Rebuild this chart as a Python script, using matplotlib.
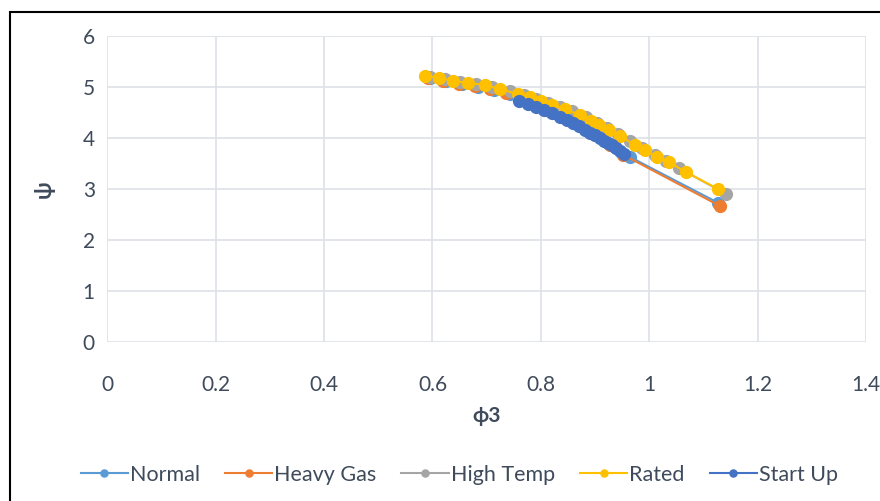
import matplotlib.pyplot as plt
from matplotlib.patches import Rectangle

plt.rcParams['font.family'] = ['Lato', 'DejaVu Sans']

# 数据 (phi3, psi)
normal_x = [0.595, 0.625, 0.654, 0.684, 0.713, 0.743, 0.771, 0.798, 0.826, 0.854,
            0.881, 0.909, 0.937, 0.964, 1.127]
normal_y = [5.18, 5.12, 5.06, 5.00, 4.94, 4.86, 4.75, 4.63, 4.49, 4.35,
            4.20, 4.02, 3.82, 3.63, 2.73]

heavy_x = [0.592, 0.619, 0.649, 0.678, 0.706, 0.736, 0.761, 0.789, 0.817, 0.844,
           0.872, 0.900, 0.928, 0.952, 1.130]
heavy_y = [5.18, 5.12, 5.06, 5.02, 4.96, 4.88, 4.78, 4.67, 4.53, 4.39,
           4.24, 4.06, 3.86, 3.67, 2.67]

hot_x = [0.595, 0.623, 0.651, 0.680, 0.710, 0.743, 0.769, 0.791, 0.813, 0.835,
         0.857, 0.883, 0.903, 0.922, 0.942, 0.964, 0.987, 1.011, 1.031, 1.055, 1.142]
hot_y = [5.20, 5.16, 5.10, 5.06, 5.00, 4.92, 4.84, 4.76, 4.69, 4.61,
         4.53, 4.41, 4.29, 4.20, 4.08, 3.94, 3.80, 3.67, 3.55, 3.41, 2.90]

rated_x = [0.586, 0.612, 0.638, 0.665, 0.697, 0.724, 0.758, 0.780, 0.800, 0.820, 0.844,
           0.872, 0.892, 0.907, 0.926, 0.946, 0.974, 0.992, 1.014, 1.036, 1.068, 1.127]
rated_y = [5.22, 5.18, 5.12, 5.08, 5.04, 4.96, 4.86, 4.80, 4.73, 4.65, 4.57,
           4.45, 4.33, 4.25, 4.16, 4.04, 3.86, 3.76, 3.63, 3.53, 3.33, 3.00]

start_x = [0.760, 0.776, 0.791, 0.806, 0.820, 0.835, 0.848, 0.859, 0.870, 0.881,
           0.891, 0.900, 0.909, 0.916, 0.924, 0.931, 0.939, 0.946, 0.953]
start_y = [4.73, 4.67, 4.61, 4.55, 4.49, 4.41, 4.35, 4.29, 4.24, 4.16,
           4.10, 4.06, 4.00, 3.94, 3.90, 3.86, 3.80, 3.75, 3.69]

series = [
    ('Normal', normal_x, normal_y, '#5B9BD5'),
    ('Heavy Gas', heavy_x, heavy_y, '#ED7D31'),
    ('High Temp', hot_x, hot_y, '#A5A5A5'),
    ('Rated', rated_x, rated_y, '#FFC000'),
    ('Start Up', start_x, start_y, '#4472C4'),
]

txt = '#3F4B5B'
fig = plt.figure(figsize=(8.8, 5.01), dpi=100)
ax = fig.add_axes([0.122, 0.3174, 0.862, 0.6108])

for name, xs, ys, c in series:
    ax.plot(xs, ys, '-o', color=c, lw=1.5, ms=8.5, mec=c, label=name)

ax.set_xlim(0, 1.4)
ax.set_ylim(0, 6)
ax.set_xticks([0, 0.2, 0.4, 0.6, 0.8, 1.0, 1.2, 1.4])
ax.set_xticklabels(['0', '0.2', '0.4', '0.6', '0.8', '1', '1.2', '1.4'])
ax.set_yticks(range(7))
ax.grid(True, color='#DDE1E8', lw=1.2)
ax.set_axisbelow(True)
for s in ax.spines.values():
    s.set_visible(False)
ax.tick_params(length=0, labelsize=15, colors=txt)
ax.tick_params(axis='x', pad=24)
ax.tick_params(axis='y', pad=9)

ax.set_xlabel('ϕ3', fontsize=15, fontweight='bold', color=txt, labelpad=8)
ax.set_ylabel('ψ', fontsize=16, fontweight='bold', color=txt, labelpad=20)

h, l = ax.get_legend_handles_labels()
fig.legend(h, l, loc='center', bbox_to_anchor=(0.522, 0.052), ncol=5, frameon=False,
           fontsize=15.5, labelcolor=txt, handlelength=2.2, handletextpad=0.1,
           columnspacing=1.15, markerscale=0.6)

# 外框
fig.patches.append(Rectangle((10 / 880, -0.1), 1.2, 1 - 12 / 501 + 0.1,
                             transform=fig.transFigure, fill=False,
                             edgecolor='black', lw=1.5))

fig.savefig('out.png', dpi=100)
